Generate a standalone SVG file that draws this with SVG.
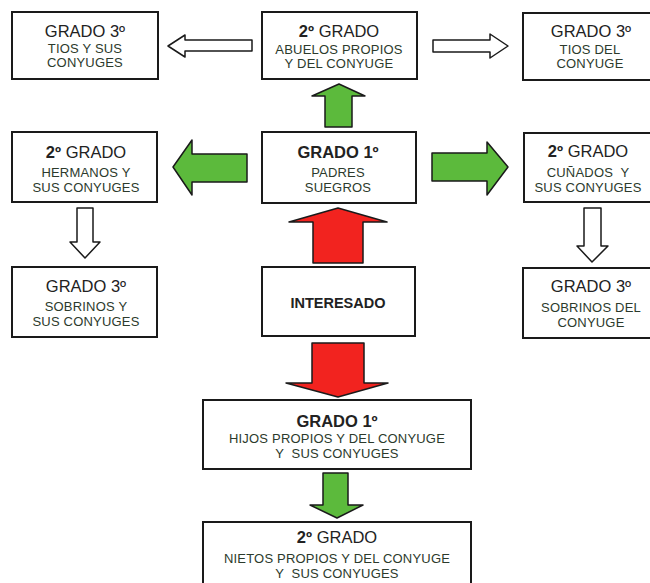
<svg xmlns="http://www.w3.org/2000/svg" width="650" height="583" viewBox="0 0 650 583">
<style>
.box{fill:#fff;stroke:#1a1a1a;stroke-width:2}
.h{font-family:"Liberation Sans",Arial,sans-serif;font-size:16.5px;fill:#222;text-anchor:middle}
.s{font-family:"Liberation Sans",Arial,sans-serif;font-size:13px;letter-spacing:0.2px;fill:#2c3a2c;text-anchor:middle;white-space:pre}
.b{font-weight:bold}
.g{fill:#5cba3c;stroke:#1a1a1a;stroke-width:1.5;stroke-linejoin:round}
.r{fill:#f2231f;stroke:#1a1a1a;stroke-width:1.5;stroke-linejoin:round}
.w{fill:#fff;stroke:#1a1a1a;stroke-width:1.5;stroke-linejoin:round}
</style>
<rect width="650" height="583" fill="#fff"/>
<g id="connectors">
<path class="w" d="M252,40 L185,40 L185,35 L168,46 L185,57 L185,51 L252,51 Z"/>
<path class="w" d="M433,40 L490,40 L490,34 L508,46 L490,58 L490,52 L433,52 Z"/>
<path class="g" d="M325,127 L325,96 L312,96 L339,84 L365,96 L352,96 L352,127 Z"/>
<path class="g" d="M247,154 L192,154 L192,140 L173,167 L192,195 L192,182 L247,182 Z"/>
<path class="g" d="M432,153 L487,153 L487,142 L508,167 L487,195 L487,181 L432,181 Z"/>
<path class="w" d="M77,208 L93,208 L93,242 L100,242 L85,258 L70,242 L77,242 Z"/>
<path class="w" d="M584,208 L601,208 L601,246 L608,246 L592,262 L577,246 L584,246 Z"/>
<path class="r" d="M313,263 L313,222 L289,222 L338,208 L387,222 L363,222 L363,263 Z"/>
<path class="r" d="M312,343 L364,343 L364,383 L388,383 L338,397 L286,383 L312,383 Z"/>
<path class="g" d="M323,473 L348,473 L348,505 L363,505 L337,518 L310,505 L323,505 Z"/>
</g>
<g id="tios">
<rect class="box" x="12" y="12" width="146" height="67"/>
<text class="h" x="85" y="37">GRADO 3º</text>
<text class="s" x="85" y="53">TIOS Y SUS</text>
<text class="s" x="85" y="67">CONYUGES</text>
</g>
<g id="abuelos">
<rect class="box" x="262" y="12" width="155" height="67"/>
<text class="h" x="339" y="37"><tspan class="b">2º</tspan> GRADO</text>
<text class="s" x="339" y="54">ABUELOS PROPIOS</text>
<text class="s" x="339" y="68">Y DEL CONYUGE</text>
</g>
<g id="tios-conyuge">
<rect class="box" x="523" y="13" width="140" height="67"/>
<text class="h" x="591" y="37">GRADO 3º</text>
<text class="s" x="590" y="54">TIOS DEL</text>
<text class="s" x="590" y="68">CONYUGE</text>
</g>
<g id="hermanos">
<rect class="box" x="12" y="132" width="145" height="70"/>
<text class="h" x="86" y="158"><tspan class="b">2º</tspan> GRADO</text>
<text class="s" x="86" y="177">HERMANOS Y</text>
<text class="s" x="86" y="192">SUS CONYUGES</text>
</g>
<g id="padres">
<rect class="box" x="262" y="132" width="154" height="71"/>
<text class="h b" x="338" y="158">GRADO 1º</text>
<text class="s" x="338" y="177">PADRES</text>
<text class="s" x="338" y="192">SUEGROS</text>
</g>
<g id="cunados">
<rect class="box" x="524" y="133" width="140" height="69"/>
<text class="h" x="588" y="157"><tspan class="b">2º</tspan> GRADO</text>
<text class="s" x="588" y="177">CUÑADOS  Y</text>
<text class="s" x="588" y="192">SUS CONYUGES</text>
</g>
<g id="sobrinos">
<rect class="box" x="12" y="267" width="145" height="70"/>
<text class="h" x="86" y="292">GRADO 3º</text>
<text class="s" x="86" y="311">SOBRINOS Y</text>
<text class="s" x="86" y="326">SUS CONYUGES</text>
</g>
<g id="interesado">
<rect class="box" x="262" y="267" width="153" height="69"/>
<text class="s b" x="338" y="308" style="font-size:14.5px;fill:#222;letter-spacing:0">INTERESADO</text>
</g>
<g id="sobrinos-conyuge">
<rect class="box" x="523" y="268" width="140" height="70"/>
<text class="h" x="591" y="292">GRADO 3º</text>
<text class="s" x="591" y="312">SOBRINOS DEL</text>
<text class="s" x="591" y="327">CONYUGE</text>
</g>
<g id="hijos">
<rect class="box" x="203" y="400" width="268" height="69"/>
<text class="h b" x="337" y="427">GRADO 1º</text>
<text class="s" x="337" y="443">HIJOS PROPIOS Y DEL CONYUGE</text>
<text class="s" x="337" y="458">Y  SUS CONYUGES</text>
</g>
<g id="nietos">
<rect class="box" x="203" y="522" width="268" height="75"/>
<text class="h" x="337" y="543"><tspan class="b">2º</tspan> GRADO</text>
<text class="s" x="337" y="563">NIETOS PROPIOS Y DEL CONYUGE</text>
<text class="s" x="337" y="578">Y  SUS CONYUGES</text>
</g>
</svg>
